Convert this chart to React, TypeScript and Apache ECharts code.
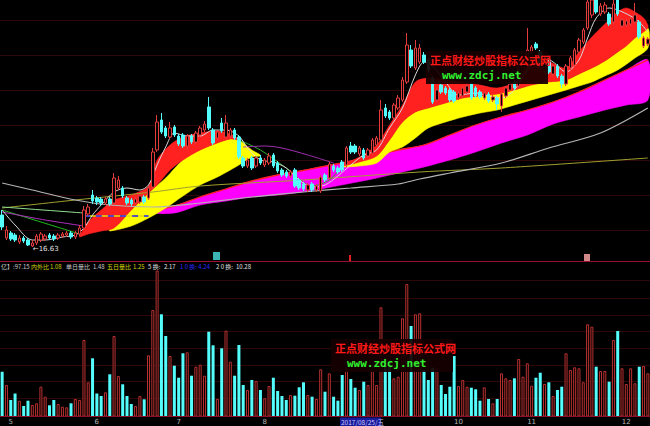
import React, { useEffect, useRef } from 'react';
import * as echarts from 'echarts';

// ---------- price bars ----------
const opens = [
  18.23, 17.08, 17.33, 17.23, 16.88, 17.08, 16.98, 16.68, 16.83, 16.98,
  17.03, 17.23, 17.18, 17.08, 17.18, 17.23, 17.33, 17.13, 17.28, 17.58,
  18.28, 19.23, 19.08, 19.03, 18.83, 19.03, 18.83, 19.58, 19.58, 19.08,
  18.98, 18.83, 18.88, 19.13, 19.08, 19.63, 21.48, 22.98, 22.58, 22.13,
  22.63, 22.18, 22.23, 21.68, 22.18, 21.88, 22.23, 22.48, 23.63, 22.48,
  22.08, 22.83, 22.13, 22.18, 22.48, 22.13, 21.08, 20.68, 21.08, 20.68,
  21.08, 20.73, 20.83, 21.23, 20.83, 20.48, 20.38, 20.18, 20.48, 19.98,
  19.78, 19.48, 19.78, 19.48, 19.43, 20.23, 20.08, 20.68, 20.58, 20.88,
  20.73, 21.68, 21.68, 21.28, 21.48, 21.18, 21.33, 21.73, 21.98, 23.58,
  23.38, 23.08, 23.58, 23.98, 24.88, 26.48, 25.58, 25.88, 26.23, 25.98,
  25.08, 23.98, 24.73, 24.58, 24.48, 24.38, 24.08, 24.18, 24.38, 24.78,
  24.58, 24.38, 24.08, 24.28, 23.98, 24.08, 23.68, 24.18, 24.48, 24.88,
  24.68, 25.48, 26.08, 26.38, 26.78, 26.38, 25.58, 25.88, 25.28, 25.68,
  25.18, 24.78, 25.58, 25.73, 26.38, 26.88, 27.58, 28.23, 28.98, 28.28,
  28.38, 28.28, 27.88, 28.98, 27.68, 27.73, 27.78, 27.88, 27.88, 26.68,
  26.78,
];
const closes = [
  17.63, 17.48, 17.03, 16.98, 17.08, 16.93, 16.73, 16.83, 17.18, 17.28,
  17.18, 17.08, 17.03, 17.23, 17.28, 17.33, 17.13, 17.33, 17.58, 18.48,
  18.63, 18.93, 18.88, 18.83, 19.03, 18.78, 20.08, 19.98, 19.18, 18.83,
  18.78, 19.03, 19.18, 18.88, 19.58, 21.38, 22.88, 22.38, 22.18, 22.58,
  22.23, 21.78, 21.68, 22.18, 21.88, 22.33, 22.58, 22.78, 22.58, 21.83,
  22.38, 22.43, 22.83, 22.48, 22.08, 21.13, 20.68, 20.98, 20.58, 21.08,
  20.83, 20.98, 21.18, 20.68, 20.43, 20.23, 20.18, 20.38, 19.68, 19.58,
  19.53, 19.73, 19.48, 19.68, 20.13, 19.98, 20.78, 20.48, 20.38, 20.48,
  21.58, 21.38, 21.38, 21.58, 21.08, 21.48, 21.98, 22.08, 23.48, 23.18,
  23.08, 23.73, 24.08, 24.98, 26.73, 25.68, 26.58, 26.58, 25.88, 25.48,
  23.88, 24.48, 24.38, 24.33, 23.98, 23.93, 24.33, 24.58, 24.68, 24.08,
  24.18, 24.13, 24.33, 23.93, 24.13, 23.78, 24.28, 24.58, 24.78, 24.58,
  25.58, 25.88, 26.48, 26.63, 26.58, 25.73, 25.88, 25.38, 25.68, 25.18,
  24.78, 25.68, 26.08, 26.48, 26.98, 27.48, 28.88, 28.98, 28.38, 28.68,
  28.73, 27.78, 28.78, 28.28, 27.98, 27.93, 28.03, 28.23, 27.13, 27.08,
  27.03,
];
const highs = [
  18.48, 17.68, 17.43, 17.33, 17.23, 17.18, 17.08, 16.98, 17.28, 17.38,
  17.28, 17.33, 17.28, 17.33, 17.38, 17.43, 17.43, 17.43, 17.73, 18.68,
  18.78, 19.48, 19.18, 19.13, 19.13, 19.13, 20.33, 20.18, 19.68, 19.18,
  19.08, 19.13, 19.28, 19.23, 19.68, 21.58, 23.23, 23.33, 22.68, 22.88,
  22.73, 22.28, 22.33, 22.28, 22.28, 22.43, 22.68, 22.93, 24.13, 22.58,
  22.48, 23.08, 23.23, 22.58, 22.58, 22.23, 21.18, 21.08, 21.18, 21.18,
  21.23, 21.08, 21.33, 21.33, 20.93, 20.58, 20.48, 20.48, 20.58, 20.08,
  19.88, 19.83, 19.88, 19.78, 20.23, 20.33, 20.88, 20.78, 20.68, 20.98,
  21.68, 21.88, 21.78, 21.68, 21.58, 21.58, 22.08, 22.18, 23.98, 23.78,
  23.48, 23.83, 24.23, 25.13, 27.33, 26.73, 26.98, 26.78, 26.38, 26.08,
  25.18, 24.58, 24.83, 24.68, 24.58, 24.48, 24.43, 24.68, 24.78, 24.88,
  24.68, 24.48, 24.43, 24.38, 24.23, 24.18, 24.38, 24.68, 24.88, 24.98,
  25.68, 25.98, 27.58, 26.73, 26.88, 26.48, 25.98, 25.98, 25.78, 25.78,
  25.28, 25.78, 26.18, 26.58, 27.08, 27.58, 29.48, 29.38, 29.23, 28.83,
  28.88, 28.38, 29.23, 29.23, 28.08, 28.03, 28.13, 28.83, 27.98, 27.18,
  27.13,
];
const lows = [
  17.48, 16.98, 16.93, 16.88, 16.78, 16.83, 16.68, 16.63, 16.73, 16.88,
  16.93, 16.98, 16.93, 16.98, 17.08, 17.13, 17.03, 17.03, 17.18, 17.48,
  18.18, 18.78, 18.73, 18.68, 18.73, 18.68, 18.73, 19.48, 19.08, 18.73,
  18.68, 18.73, 18.78, 18.78, 18.98, 19.53, 21.38, 22.28, 22.08, 22.03,
  22.13, 21.68, 21.58, 21.48, 21.78, 21.78, 22.13, 22.38, 22.48, 21.73,
  21.98, 22.33, 22.03, 22.08, 21.98, 21.03, 20.58, 20.58, 20.48, 20.58,
  20.73, 20.63, 20.73, 20.58, 20.33, 20.13, 20.08, 20.08, 19.58, 19.48,
  19.43, 19.38, 19.38, 19.38, 19.33, 19.88, 19.98, 20.38, 20.28, 20.38,
  20.63, 21.28, 21.28, 21.18, 20.98, 21.08, 21.23, 21.63, 21.88, 23.08,
  22.98, 22.98, 23.48, 23.88, 24.78, 25.58, 25.48, 25.78, 25.78, 25.38,
  23.78, 23.88, 24.28, 24.23, 23.88, 23.83, 23.98, 24.08, 24.28, 23.98,
  24.08, 24.03, 23.98, 23.83, 23.88, 23.48, 23.38, 24.08, 24.38, 24.48,
  24.58, 25.38, 25.88, 26.28, 26.48, 25.63, 25.48, 25.28, 25.18, 25.08,
  24.58, 24.68, 25.48, 25.63, 26.28, 26.78, 27.48, 28.08, 28.28, 28.18,
  28.28, 27.68, 27.78, 28.18, 27.58, 27.63, 27.68, 27.78, 27.03, 26.58,
  26.68,
];
const volumes = [
  44.8, 31.5, 16.5, 23, 15.8, 10.5, 15.8, 11.5, 13.2, 29.8,
  19.8, 11.2, 16.5, 12.5, 9.8, 9.2, 13.2, 17.5, 16.5, 76.5,
  34.2, 58.2, 23, 20.5, 24.2, 42.2, 80.5, 40.5, 32.2, 20.5,
  12.5, 10.5, 20.5, 17.2, 61.2, 106.5, 146, 102.2, 80.5, 60.5,
  50.8, 38.8, 63.2, 64.2, 40.8, 49.8, 51.8, 40.8, 84.8, 71.2,
  17.5, 68.2, 85.8, 54.8, 40.8, 71.5, 31.5, 26.5, 36.5, 35.5,
  26.5, 18.2, 30.5, 38.8, 25.5, 20.5, 16.5, 21.5, 20.8, 29.2,
  34.2, 21.5, 19.8, 17.5, 47.2, 24.8, 43.2, 19.8, 15.8, 41.5,
  48.2, 37.5, 28.8, 26.5, 34.8, 31.5, 46.5, 31.5, 109.2, 54.8,
  54.8, 38.2, 39.8, 98.2, 132.5, 90.5, 102.2, 103.2, 46.5, 36.5,
  48.8, 48.2, 31.5, 22.5, 29.8, 60.5, 30.5, 36.5, 29.8, 28.8,
  27.2, 15.8, 29.2, 17.5, 13.2, 17.5, 43.2, 38.2, 36.5, 38.2,
  57.5, 39.8, 53.2, 30.8, 38.8, 43.8, 32.5, 34.2, 20.5, 26.5,
  29.8, 63.2, 46.5, 49.2, 48.2, 34.2, 92.2, 89.8, 49.8, 45.5,
  45.5, 34.8, 76.5, 85.5, 48.2, 32.5, 48.2, 33.2, 49.8, 50.5,
  43.2,
];
const categories = opens.map((_, i) => 'D' + (i + 1));
const monthTickIndex = [2, 22, 41, 61, 106, 123, 145];
const monthTickText = ['5', '6', '7', '8', '10', '11', '12'];
const lowIndex = 7;
const cursorDate = '2017/08/25/五';

// ---------- indicator bands: [bar index, upper edge, lower edge] ----------
const redBandA = [[18,17.18,17.13],[20,17.88,17.28],[23,18.48,17.43],[26,18.98,17.58],[30,19.23,18.48],[34,19.68,19.33],[36,20.98,19.73],[39,21.73,20.48],[42,22.13,20.98],[46,22.33,21.48],[50,22.43,21.83],[53,22.28,22.03],[55,22.03,21.98]];
const yellowBandA = [[25,17.53,17.43],[30,18.48,17.68],[34,19.33,18.08],[38,20.08,18.58],[42,20.98,19.18],[46,21.48,19.73],[50,21.83,20.13],[53,22.03,20.48],[55,21.98,20.73],[58,21.48,21.13],[60,21.23,21.18]];
const magentaBand = [[33,18.38,18.33],[40,18.68,18.33],[46,19.13,18.73],[52,19.53,18.93],[58,19.93,19.13],[64,20.23,19.23],[68,20.38,19.33],[74,20.63,19.53],[80,20.88,19.78],[86,21.18,20.03],[92,21.48,20.33],[98,21.73,20.63],[104,22.23,20.98],[110,22.73,21.38],[116,23.13,21.83],[122,23.48,22.23],[128,23.88,22.78],[134,24.38,23.13],[140,24.98,23.48],[145,25.48,23.73],[150,25.98,23.98]];
const redBandB = [[79,20.73,20.68],[83,21.13,20.88],[87,21.73,21.18],[90,22.73,21.98],[93,23.73,22.88],[96,24.88,23.38],[99,25.08,23.58],[103,24.98,23.83],[107,24.88,24.08],[111,24.73,24.18],[115,24.58,24.28],[119,24.88,24.48],[123,25.88,24.73],[127,25.88,24.88],[131,25.58,24.98],[134,26.38,25.28],[137,27.13,25.58],[140,27.78,25.93],[143,28.38,26.38],[145,28.58,26.68],[147,28.38,27.08],[149,28.08,27.38],[150,27.73,27.58]];
const yellowBandB = [[79,20.68,20.63],[83,20.88,20.68],[87,21.18,20.83],[90,21.98,21.38],[93,22.88,21.63],[96,23.38,22.08],[99,23.58,22.58],[103,23.83,22.88],[107,24.08,23.13],[111,24.18,23.33],[115,24.28,23.48],[119,24.48,23.73],[123,24.73,23.98],[127,24.88,24.23],[131,24.98,24.48],[134,25.28,24.68],[137,25.58,24.88],[140,25.93,25.18],[143,26.38,25.48],[147,27.08,26.08],[150,27.58,26.58]];

// ---------- indicator lines: [bar index, value] ----------
const whiteLine = [[0,18.48],[3,17.73],[7,16.98],[10,16.98],[14,17.13],[17,17.23],[19,17.58],[21,18.23],[23,18.73],[26,19.38],[29,19.58],[32,19.48],[34,19.73],[36,20.73],[38,21.63],[40,22.33],[43,22.18],[46,22.18],[49,22.48],[52,22.48],[55,22.18],[57,21.58],[60,20.98],[63,20.88],[66,20.58],[69,19.98],[72,19.63],[75,19.73],[78,20.18],[81,20.73],[84,21.23],[87,21.48],[90,22.58],[93,23.58],[96,25.23],[98,25.88],[100,25.68],[103,24.88],[106,24.23],[110,24.33],[113,24.18],[116,24.08],[119,24.48],[122,25.48],[125,26.23],[128,25.88],[131,25.38],[134,25.98],[136,27.08],[138,28.08],[141,28.58],[143,28.48],[146,28.18],[148,27.88],[150,27.38]];
const grayLine = [[0,19.83],[7,19.48],[17,18.98],[25,18.73],[35,18.63],[46,18.83],[58,19.13],[70,19.38],[81,19.58],[92,19.78],[97,20.03],[104,20.33],[116,20.83],[127,21.58],[139,22.33],[150,23.58]];
const oliveLine = [[0,18.58],[17,18.98],[35,19.38],[46,19.68],[70,19.98],[97,20.38],[116,20.58],[150,21.08]];
const greenLineA = [[0,18.48],[9,17.88],[18,17.28]];
const greenLineB = [[55,21.98],[60,21.48],[66,20.58],[72,19.68],[76,19.98],[79,20.68]];
const purpleLineA = [[0,18.38],[10,17.98],[19,17.68]];
const purpleLineB = [[56,21.63],[61,21.68],[65,21.58],[71,21.23],[77,20.83]];
const paleGreenLineA = [[0,18.63],[19,18.33]];
const supportLine = [[19,18.18],[34,18.18]];

// ---------- info row ----------
const infoRow = [
  { text: '亿】:97.15', color: '#c8c8c8', x: 1 },
  { text: '内外比', color: '#d2d200', x: 31 },
  { text: '1.08', color: '#d2d200', x: 50 },
  { text: '单日量比', color: '#c8c8c8', x: 66 },
  { text: '1.48', color: '#c8c8c8', x: 93 },
  { text: '五日量比', color: '#d2d200', x: 107 },
  { text: '1.25', color: '#d2d200', x: 133 },
  { text: '5 换:', color: '#e0e0e0', x: 148 },
  { text: '2.17', color: '#e0e0e0', x: 164 },
  { text: '1 0 换: 4.24', color: '#2828ff', x: 180 },
  { text: '2 0 换:', color: '#e0e0e0', x: 216 },
  { text: '10.28', color: '#e0e0e0', x: 236 },
];

const RED = '#ff2020';
const YELLOW = '#ffff00';
const MAGENTA = '#ff00ff';
const CYAN = '#54fcfc';
const UPRED = '#e23c3c';

function bandSeries(samples: number[][], fill: string, edge?: string) {
  return {
    type: 'custom',
    xAxisIndex: 0,
    yAxisIndex: 0,
    silent: true,
    clip: true,
    z: 1,
    data: [[samples[0][0], samples[0][1]]],
    renderItem: (_p: any, api: any) => {
      const top = samples.map((s) => api.coord([s[0], s[1]]));
      const bot = samples.map((s) => api.coord([s[0], s[2]])).reverse();
      const children: any[] = [
        {
          type: 'polygon',
          shape: { points: top.concat(bot), smooth: 0.3 },
          style: { fill, stroke: fill, lineWidth: 0.6 },
        },
      ];
      if (edge) {
        children.push({
          type: 'polyline',
          shape: { points: top, smooth: 0.3 },
          style: { stroke: edge, lineWidth: 1.3, fill: null },
        });
      }
      return { type: 'group', children };
    },
  };
}

function lineSeries(data: number[][], color: string, width = 1, z = 2, type: any = 'solid') {
  return {
    type: 'line',
    xAxisIndex: 0,
    yAxisIndex: 0,
    data,
    smooth: 0.3,
    showSymbol: false,
    symbol: 'none',
    silent: true,
    z,
    lineStyle: { color, width, type },
  };
}

export default function App() {
  const ref = useRef<HTMLDivElement>(null);
  useEffect(() => {
    const chart = echarts.init(ref.current!, null, { renderer: 'svg' });
    const candleData = opens.map((o, i) => [o, closes[i], lows[i], highs[i]]);
    const volData = volumes.map((v, i) =>
      closes[i] >= opens[i]
        ? { value: v, itemStyle: { color: '#000', borderColor: '#b83030', borderWidth: 1 } }
        : { value: v, itemStyle: { color: CYAN, borderColor: CYAN, borderWidth: 0 } }
    );

    const gridLinesTop = [20.5, 55.5, 90.5, 125.5, 160.5, 195.5, 230.5];
    const gridLinesVol = [280.5, 298.5, 315.5, 331.5, 348.5, 365.5, 381.5, 398.5];

    const graphic: any[] = [];
    gridLinesTop.concat(gridLinesVol).forEach((y) =>
      graphic.push({ type: 'line', z: 0, silent: true, shape: { x1: 0, y1: y, x2: 650, y2: y }, style: { stroke: '#2e0808', lineWidth: 1 } })
    );
    graphic.push({ type: 'line', z: 50, shape: { x1: 0, y1: 261.5, x2: 650, y2: 261.5 }, style: { stroke: '#9a1030', lineWidth: 1 } });
    graphic.push({ type: 'line', z: 50, shape: { x1: 0, y1: 416.5, x2: 650, y2: 416.5 }, style: { stroke: '#8a1028', lineWidth: 1 } });
    infoRow.forEach((t) =>
      graphic.push({
        type: 'text', z: 60, x: t.x, y: 266.5,
        style: { text: t.text, fill: t.color, fontSize: 6, fontFamily: 'Noto Sans CJK SC', verticalAlign: 'middle', align: 'left' },
      })
    );
    // event markers
    graphic.push({ type: 'rect', z: 60, shape: { x: 213, y: 252, width: 7, height: 8 }, style: { fill: '#3cb4b4' } });
    graphic.push({ type: 'rect', z: 60, shape: { x: 349, y: 255, width: 2, height: 6 }, style: { fill: '#e02020' } });
    graphic.push({ type: 'rect', z: 60, shape: { x: 584, y: 254, width: 6, height: 7 }, style: { fill: '#d08888' } });
    // cursor date
    graphic.push({ type: 'rect', z: 60, shape: { x: 340, y: 417.5, width: 41, height: 8.5 }, style: { fill: '#1a1a9a' } });
    graphic.push({
      type: 'text', z: 61, x: 341, y: 422,
      style: { text: cursorDate, fill: '#c8c8ff', fontSize: 6.5, fontFamily: 'Noto Sans CJK SC', verticalAlign: 'middle' },
    });
    // watermarks
    const mark = (x: number, y: number) => {
      graphic.push({ type: 'rect', z: 80, shape: { x, y, width: 122, height: 33 }, style: { fill: 'rgba(22,0,0,0.92)' } });
      graphic.push({
        type: 'text', z: 81, x: x + 4, y: y + 3,
        style: { text: '正点财经炒股指标公式网', fill: '#ff1818', fontSize: 11, fontWeight: 'bold', fontFamily: 'Noto Sans CJK SC' },
      });
      graphic.push({
        type: 'text', z: 81, x: x + 16, y: y + 19,
        style: { text: 'www.zdcj.net', fill: '#30f030', fontSize: 11, fontWeight: 'bold', fontFamily: 'DejaVu Sans Mono' },
      });
    };
    mark(426, 51);
    mark(331, 339);

    const option: any = {
      animation: false,
      backgroundColor: '#000',
      grid: [
        { left: 0, right: 0, top: 0, height: 261 },
        { left: 0, right: 0, top: 270, height: 146.5 },
      ],
      xAxis: [
        { type: 'category', gridIndex: 0, data: categories, boundaryGap: true, show: false },
        {
          type: 'category', gridIndex: 1, data: categories, boundaryGap: true,
          axisLine: { show: false }, axisTick: { show: false }, splitLine: { show: false },
          axisLabel: {
            show: true,
            interval: (i: number) => monthTickIndex.includes(i),
            formatter: (_v: string, i: number) => {
              const k = monthTickIndex.indexOf(i);
              return k >= 0 ? monthTickText[k] : '';
            },
            color: '#b4b4b4', fontSize: 7, margin: 2, fontFamily: 'DejaVu Sans',
          },
        },
      ],
      yAxis: [
        { type: 'value', gridIndex: 0, min: 15.93, max: 28.98, show: false, splitLine: { show: false } },
        { type: 'value', gridIndex: 1, min: 0, max: 146.5, show: false, splitLine: { show: false } },
      ],
      series: [
        bandSeries(magentaBand, MAGENTA, '#ff2020'),
        bandSeries(yellowBandA, YELLOW),
        bandSeries(redBandA, RED),
        bandSeries(yellowBandB, YELLOW),
        bandSeries(redBandB, RED),
        lineSeries(oliveLine, '#a0a030', 1),
        lineSeries(grayLine, '#b4b4b4', 1.2),
        lineSeries(paleGreenLineA, '#90e090', 1),
        lineSeries(greenLineA, '#20c020', 1),
        lineSeries(purpleLineA, '#b030c0', 1),
        lineSeries(greenLineB, '#30b030', 1),
        lineSeries(purpleLineB, '#a030b0', 1),
        lineSeries(supportLine, '#e0e000', 1.5),
        lineSeries(supportLine, '#2020ff', 1.5, 2, [6, 6]),
        lineSeries(whiteLine, '#d8d8d8', 1, 3),
        {
          type: 'candlestick',
          xAxisIndex: 0,
          yAxisIndex: 0,
          data: candleData,
          barWidth: 3,
          clip: true,
          z: 5,
          itemStyle: { color: '#000', color0: CYAN, borderColor: UPRED, borderColor0: CYAN, borderWidth: 1 },
          markPoint: {
            symbol: 'circle',
            symbolSize: 1,
            itemStyle: { color: 'rgba(0,0,0,0)' },
            data: [{ coord: [lowIndex, lows[lowIndex]], value: lows[lowIndex] }],
            label: {
              show: true, position: 'right', distance: 0, offset: [0, 2],
              formatter: () => '←' + lows[lowIndex].toFixed(2),
              color: '#e0e0e0', fontSize: 7, fontFamily: 'DejaVu Sans',
            },
          },
        },
        {
          type: 'bar',
          xAxisIndex: 1,
          yAxisIndex: 1,
          data: volData,
          barWidth: 3,
          z: 5,
        },
      ],
      graphic,
    };
    chart.setOption(option);
    return () => chart.dispose();
  }, []);
  return (
    <div
      ref={ref}
      style={{ position: 'absolute', left: 0, top: 0, width: 650, height: 426, background: '#000' }}
    />
  );
}
